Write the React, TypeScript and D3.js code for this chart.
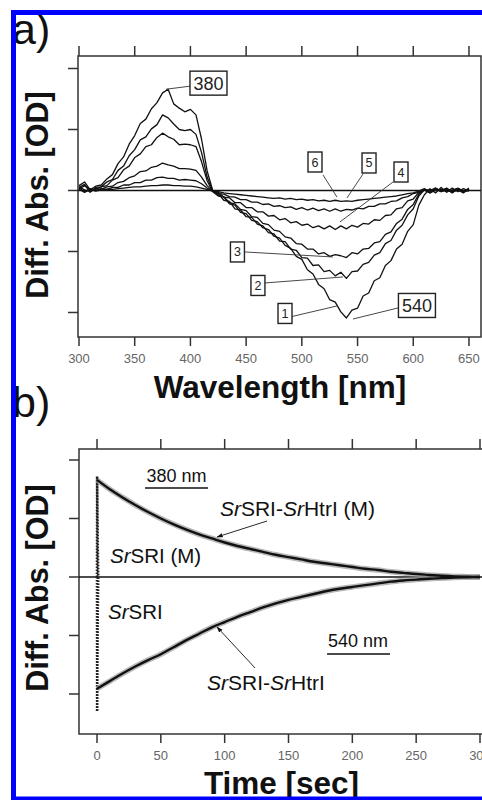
import React from 'react';
import * as d3 from 'd3';

// ---------- Panel a: difference spectra ----------
const wavelengths = [300,305,310,315,320,325,330,335,340,345,350,355,360,365,370,375,380,385,390,395,400,405,410,415,420,425,430,435,440,445,450,455,460,465,470,475,480,485,490,495,500,505,510,515,520,525,530,535,540,545,550,555,560,565,570,575,580,585,590,595,600,605,610,615,620,625,630,635,640,645,650];

const spectrum1 = [0.08,0.14,0.01,0.07,0.09,0.19,0.26,0.44,0.55,0.76,0.90,1.10,1.17,1.34,1.44,1.60,1.66,1.42,1.35,1.29,1.33,1.24,0.84,0.32,0.00,-0.08,-0.11,-0.22,-0.24,-0.36,-0.38,-0.49,-0.51,-0.61,-0.64,-0.75,-0.78,-0.90,-0.95,-1.08,-1.13,-1.30,-1.37,-1.54,-1.61,-1.79,-1.83,-1.99,-2.09,-1.96,-1.93,-1.73,-1.68,-1.48,-1.43,-1.23,-1.15,-0.96,-0.88,-0.67,-0.56,-0.24,-0.07,0.03,-0.04,0.05,-0.03,0.04,-0.02,0.03,-0.01];
const spectrum2 = [0.05,0.10,-0.03,0.05,0.06,0.14,0.18,0.33,0.40,0.57,0.67,0.83,0.88,1.01,1.08,1.24,1.19,1.09,1.00,0.98,1.00,0.92,0.62,0.22,-0.01,-0.05,-0.16,-0.18,-0.30,-0.32,-0.43,-0.44,-0.55,-0.58,-0.69,-0.71,-0.83,-0.84,-0.96,-0.98,-1.10,-1.11,-1.23,-1.22,-1.33,-1.31,-1.40,-1.34,-1.44,-1.33,-1.32,-1.21,-1.18,-1.06,-1.02,-0.87,-0.82,-0.65,-0.57,-0.40,-0.30,-0.09,0.01,-0.04,0.03,0.00,0.04,-0.02,0.01,-0.04,0.03];
const spectrum3 = [0.02,0.08,0.01,0.02,0.06,0.08,0.17,0.21,0.34,0.40,0.54,0.60,0.72,0.75,0.87,0.94,0.88,0.84,0.75,0.76,0.75,0.72,0.47,0.16,-0.02,-0.09,-0.10,-0.20,-0.22,-0.31,-0.33,-0.43,-0.44,-0.54,-0.56,-0.65,-0.67,-0.76,-0.78,-0.87,-0.88,-0.96,-0.96,-1.04,-1.02,-1.08,-1.05,-1.07,-1.10,-1.02,-1.04,-0.96,-0.95,-0.86,-0.84,-0.72,-0.68,-0.54,-0.47,-0.31,-0.23,-0.06,0.02,0.00,0.04,-0.02,0.02,-0.01,0.04,-0.01,0.02];
const spectrum4 = [0.06,0.01,-0.02,0.03,0.02,0.06,0.07,0.13,0.15,0.21,0.24,0.31,0.32,0.38,0.40,0.45,0.42,0.40,0.36,0.36,0.35,0.33,0.22,0.08,-0.01,-0.03,-0.11,-0.12,-0.20,-0.20,-0.28,-0.28,-0.35,-0.35,-0.42,-0.41,-0.48,-0.46,-0.53,-0.51,-0.57,-0.55,-0.61,-0.58,-0.63,-0.58,-0.64,-0.58,-0.63,-0.57,-0.60,-0.54,-0.55,-0.48,-0.49,-0.41,-0.40,-0.30,-0.28,-0.17,-0.14,-0.03,0.01,-0.04,0.01,-0.01,0.03,-0.04,0.03,-0.01,0.02];
const spectrum5 = [0.04,-0.02,0.03,0.00,0.03,0.02,0.05,0.05,0.09,0.09,0.13,0.13,0.17,0.17,0.21,0.22,0.20,0.20,0.17,0.18,0.17,0.16,0.11,0.04,-0.01,-0.05,-0.06,-0.10,-0.11,-0.15,-0.15,-0.19,-0.19,-0.23,-0.22,-0.26,-0.25,-0.28,-0.27,-0.31,-0.28,-0.32,-0.29,-0.33,-0.30,-0.34,-0.30,-0.34,-0.31,-0.32,-0.29,-0.30,-0.26,-0.26,-0.22,-0.22,-0.18,-0.17,-0.12,-0.10,-0.05,-0.03,0.02,-0.01,0.04,-0.02,0.01,-0.03,0.02,-0.02,0.04];
const spectrum6 = [0.02,-0.03,0.02,-0.01,0.01,0.02,0.02,0.03,0.04,0.05,0.06,0.06,0.07,0.08,0.08,0.09,0.09,0.08,0.08,0.07,0.07,0.06,0.04,0.02,-0.01,-0.02,-0.04,-0.05,-0.06,-0.07,-0.08,-0.09,-0.10,-0.11,-0.12,-0.13,-0.12,-0.14,-0.13,-0.15,-0.14,-0.16,-0.15,-0.17,-0.16,-0.18,-0.16,-0.18,-0.17,-0.18,-0.16,-0.15,-0.14,-0.13,-0.12,-0.11,-0.10,-0.09,-0.07,-0.05,-0.04,-0.01,0.03,-0.03,0.00,0.02,-0.02,0.01,0.03,-0.02,0.00];

const wavelengthTicks = [300, 350, 400, 450, 500, 550, 600, 650];
const diffTicksA = [-2, -1, 0, 1, 2];

// labels in panel a: [text, box nm, box OD, line-from nm, OD, line-to nm, OD, big]
const labelsA: [string, number, number, number, number, number, number, boolean][] = [
  ['380', 416.2, 1.76, 399.6, 1.71, 378, 1.66, true],
  ['540', 603.3, -1.885, 586.3, -1.926, 545.9, -2.107, true],
  ['1', 484.9, -2.016, 491.2, -2.066, 531.5, -1.893, false],
  ['2', 460.6, -1.557, 466.9, -1.516, 536.9, -1.418, false],
  ['3', 442.2, -1.008, 449.0, -1.008, 527.9, -1.09, false],
  ['6', 511.8, 0.467, 519.0, 0.254, 531.5, -0.107, false],
  ['5', 560.3, 0.451, 554.9, 0.27, 540.5, -0.123, false],
  ['4', 589.0, 0.303, 581.8, 0.139, 534.2, -0.516, false],
];

// ---------- Panel b: kinetics ----------
const times = [0,10,20,30,40,50,60,70,80,90,100,110,120,130,140,150,160,170,180,190,200,210,220,230,240,250,260,270,280,290,300];
const decay380 = [1.66,1.50,1.36,1.23,1.11,1.00,0.90,0.81,0.73,0.66,0.59,0.53,0.48,0.43,0.38,0.34,0.30,0.26,0.23,0.20,0.17,0.14,0.12,0.09,0.07,0.05,0.035,0.02,0.01,0.005,0.0];
const recovery540 = [-1.91,-1.78,-1.65,-1.53,-1.42,-1.32,-1.20,-1.08,-0.97,-0.86,-0.77,-0.68,-0.60,-0.52,-0.45,-0.39,-0.34,-0.29,-0.24,-0.20,-0.17,-0.14,-0.11,-0.08,-0.06,-0.045,-0.03,-0.02,-0.01,-0.005,0.0];
// fast SrSRI components (sub-second)
const fastTimes = [0, 0.1, 0.3, 0.6, 1.0];
const fast380 = [0.0, 1.72, 1.2, 0.5, 0.0];
const fast540 = [0.0, -2.3, -1.5, -0.6, 0.0];

const timeTicks = [0, 50, 100, 150, 200, 250, 300];
const diffTicksB = [-2, -1, 0, 1, 2];

const FONT = '"Liberation Sans", Arial, Helvetica, sans-serif';

function Frame({ x0, x1, y0, y1, xScale, yScale, xTicks, yTicks }: any) {
  return (
    <g>
      <rect x={x0} y={y0} width={x1 - x0} height={y1 - y0} fill="none" stroke="#333" strokeWidth={1.5} />
      {xTicks.map((t: number) => (
        <g key={'x' + t}>
          <line x1={xScale(t)} x2={xScale(t)} y1={y0} y2={y0 - 10} stroke="#333" strokeWidth={1.5} />
          <line x1={xScale(t)} x2={xScale(t)} y1={y1} y2={y1 + 9} stroke="#333" strokeWidth={1.5} />
          <text x={xScale(t)} y={y1 + 26} textAnchor="middle" fontSize={13} fill="#666" fontFamily={FONT}>{t}</text>
        </g>
      ))}
      {yTicks.map((t: number) => (
        <line key={'y' + t} x1={x0} x2={x0 - 10} y1={yScale(t)} y2={yScale(t)} stroke="#333" strokeWidth={1.5} />
      ))}
    </g>
  );
}

function SrText({ x, y, parts, size }: { x: number; y: number; parts: [string, boolean][]; size: number }) {
  return (
    <text x={x} y={y} fontSize={size} fontFamily={FONT} fill="#111">
      {parts.map(([s, it], i) => (
        <tspan key={i} fontStyle={it ? 'italic' : 'normal'}>{s}</tspan>
      ))}
    </text>
  );
}

export default function App() {
  const xa = d3.scaleLinear().domain([299.1, 660.8]).range([78, 481]);
  const ya = d3.scaleLinear().domain([-2.402, 2.205]).range([337, 56]);
  const xb = d3.scaleLinear().domain([-14.1, 304.7]).range([79, 486]);
  const yb = d3.scaleLinear().domain([-2.684, 2.188]).range([734, 449]);

  const spectra = [spectrum1, spectrum2, spectrum3, spectrum4, spectrum5, spectrum6];
  const lineA = d3.line<number>().x((_, i) => xa(wavelengths[i])).y((d) => ya(d));
  const lineB = d3.line<number>().x((_, i) => xb(times[i])).y((d) => yb(d)).curve(d3.curveMonotoneX);
  const lineFast = d3.line<number>().x((_, i) => xb(fastTimes[i])).y((d) => yb(d));

  return (
    <svg width={482} height={800} style={{ position: 'absolute', left: 0, top: 0, background: '#fff' }} fontFamily={FONT}>
      <defs>
        <marker id="arr" viewBox="0 0 10 10" refX={9} refY={5} markerWidth={7} markerHeight={7} orient="auto">
          <path d="M0,1.5 L10,5 L0,8.5 z" fill="#111" />
        </marker>
        <clipPath id="clipA"><rect x={78} y={56} width={403} height={281} /></clipPath>
        <clipPath id="clipB"><rect x={79} y={449} width={407} height={285} /></clipPath>
      </defs>
      <rect x={0} y={0} width={482} height={800} fill="#fff" />

      {/* ---------------- Panel a ---------------- */}
      <text x={12} y={44} fontSize={43} fill="#111" fontFamily={FONT}>a)</text>
      <Frame x0={78} x1={481} y0={56} y1={337} xScale={xa} yScale={ya} xTicks={wavelengthTicks} yTicks={diffTicksA} />
      <g clipPath="url(#clipA)">
        <line x1={78} x2={481} y1={ya(0)} y2={ya(0)} stroke="#111" strokeWidth={1.5} />
        {spectra.map((s, k) => (
          <path key={k} d={lineA(s) || ''} fill="none" stroke="#111" strokeWidth={1.3} strokeLinejoin="round" />
        ))}
      </g>
      {labelsA.map(([t, bx, by, fx, fy, tx, ty, big]) => {
        const w = big ? 37 : 14;
        const h = big ? 24 : 20;
        const cx = xa(bx), cy = ya(by);
        return (
          <g key={t}>
            <line x1={xa(fx)} y1={ya(fy)} x2={xa(tx)} y2={ya(ty)} stroke="#333" strokeWidth={0.9} />
            <rect x={cx - w / 2} y={cy - h / 2} width={w} height={h} fill="#fff" stroke="#222" strokeWidth={1.4} />
            <text x={cx} y={cy + (big ? 6.5 : 4.5)} textAnchor="middle" fontSize={big ? 18 : 12.5} fill="#222" fontFamily={FONT}>{t}</text>
          </g>
        );
      })}
      <text transform={`translate(48,195) rotate(-90)`} textAnchor="middle" fontSize={30.5} fontWeight="bold" fill="#111" fontFamily={FONT}>Diff. Abs. [OD]</text>
      <text x={280} y={397.5} textAnchor="middle" fontSize={31.5} fontWeight="bold" fill="#111" fontFamily={FONT}>Wavelength [nm]</text>

      {/* ---------------- Panel b ---------------- */}
      <text x={12} y={417} fontSize={43} fill="#111" fontFamily={FONT}>b)</text>
      <Frame x0={79} x1={486} y0={449} y1={734} xScale={xb} yScale={yb} xTicks={timeTicks} yTicks={diffTicksB} />
      <g clipPath="url(#clipB)">
        <line x1={79} x2={486} y1={yb(0)} y2={yb(0)} stroke="#111" strokeWidth={1.5} />
        <path d={lineFast(fast380) || ''} fill="none" stroke="#222" strokeWidth={2.6} strokeDasharray="1.6 1.4" />
        <path d={lineFast(fast540) || ''} fill="none" stroke="#222" strokeWidth={2.6} strokeDasharray="1.6 1.4" />
        <path d={lineB(decay380) || ''} fill="none" stroke="#9a9a9a" strokeWidth={5.5} opacity={0.7} />
        <path d={lineB(recovery540) || ''} fill="none" stroke="#9a9a9a" strokeWidth={5.5} opacity={0.7} />
        <path d={lineB(decay380) || ''} fill="none" stroke="#111" strokeWidth={2.4} />
        <path d={lineB(recovery540) || ''} fill="none" stroke="#111" strokeWidth={2.4} />
      </g>
      <text x={xb(62.3)} y={yb(1.624)} textAnchor="middle" fontSize={18} fill="#111" fontFamily={FONT}>380 nm</text>
      <line x1={xb(37.6)} x2={xb(87)} y1={yb(1.521)} y2={yb(1.521)} stroke="#111" strokeWidth={1.5} />
      <SrText x={xb(96.3)} y={yb(1.043)} size={21} parts={[['Sr', true], ['SRI-', false], ['Sr', true], ['HtrI (M)', false]]} />
      <line x1={xb(133.2)} y1={yb(0.957)} x2={xb(94)} y2={yb(0.684)} stroke="#111" strokeWidth={0.9} markerEnd="url(#arr)" />
      <SrText x={xb(10.2)} y={yb(0.239)} size={20.5} parts={[['Sr', true], ['SRI (M)', false]]} />
      <SrText x={xb(8.6)} y={yb(-0.718)} size={20.5} parts={[['Sr', true], ['SRI', false]]} />
      <text x={xb(204.4)} y={yb(-1.197)} textAnchor="middle" fontSize={18} fill="#111" fontFamily={FONT}>540 nm</text>
      <line x1={xb(180.2)} x2={xb(229.5)} y1={yb(-1.316)} y2={yb(-1.316)} stroke="#111" strokeWidth={1.5} />
      <SrText x={xb(86.2)} y={yb(-1.932)} size={21} parts={[['Sr', true], ['SRI-', false], ['Sr', true], ['HtrI', false]]} />
      <line x1={xb(123.8)} y1={yb(-1.556)} x2={xb(94)} y2={yb(-0.855)} stroke="#111" strokeWidth={0.9} markerEnd="url(#arr)" />

      <text transform={`translate(48,588) rotate(-90)`} textAnchor="middle" fontSize={30.5} fontWeight="bold" fill="#111" fontFamily={FONT}>Diff. Abs. [OD]</text>
      <text x={281.5} y={794} textAnchor="middle" fontSize={31.5} fontWeight="bold" fill="#111" fontFamily={FONT}>Time [sec]</text>

      {/* blue border */}
      <rect x={13.5} y={12.5} width={480} height={786.5} fill="none" stroke="#0000ff" strokeWidth={5} />
    </svg>
  );
}
